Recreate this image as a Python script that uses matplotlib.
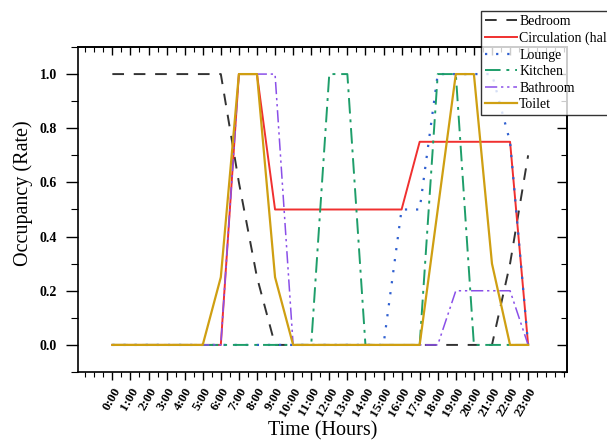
import matplotlib
matplotlib.use("Agg")
import matplotlib.pyplot as plt
from matplotlib.ticker import MultipleLocator, FixedLocator

plt.rcParams['font.family'] = ['Liberation Serif', 'DejaVu Serif']

hours = list(range(24))
tick_labels = [f"{h}:00" for h in hours]

bedroom     = [1, 1, 1, 1, 1, 1, 1, 0.6, 0.25, 0, 0, 0, 0, 0, 0, 0, 0, 0, 0, 0, 0, 0, 0.3, 0.7]
circulation = [0, 0, 0, 0, 0, 0, 0, 1, 1, 0.5, 0.5, 0.5, 0.5, 0.5, 0.5, 0.5, 0.5, 0.75, 0.75, 0.75, 0.75, 0.75, 0.75, 0]
lounge      = [0, 0, 0, 0, 0, 0, 0, 0, 0, 0, 0, 0, 0, 0, 0, 0, 0.5, 0.5, 1, 1, 1, 1, 0.75, 0]
kitchen     = [0, 0, 0, 0, 0, 0, 0, 0, 0, 0, 0, 0, 1, 1, 0, 0, 0, 0, 1, 1, 0, 0, 0, 0]
bathroom    = [0, 0, 0, 0, 0, 0, 0, 1, 1, 1, 0, 0, 0, 0, 0, 0, 0, 0, 0, 0.2, 0.2, 0.2, 0.2, 0]
toilet      = [0, 0, 0, 0, 0, 0, 0.25, 1, 1, 0.25, 0, 0, 0, 0, 0, 0, 0, 0, 0.5, 1, 1, 0.3, 0, 0]

fig = plt.figure(figsize=(6.07, 4.44), dpi=100)
ax = fig.add_axes([78/607, 1-372/444, (567-78)/607, (372-47)/444])

lw = 1.4
ax.plot(hours, bedroom, color='#333333', linestyle=(0, (6, 5)), lw=lw, label='Bedroom')
ax.plot(hours, circulation, color='#F0302F', linestyle='-', lw=lw, label='Circulation (hall)')
ax.plot(hours, lounge, color='#3060D0', linestyle=(0, (1, 4)), lw=lw+0.2, label='Lounge')
ax.plot(hours, kitchen, color='#1E9E6A', linestyle=(0, (8, 3, 1.5, 3)), lw=lw, label='Kitchen')
ax.plot(hours, bathroom, color='#8A4FE8', linestyle=(0, (8, 2.5, 1.5, 2.5, 1.5, 2.5)), lw=1.1, label='Bathroom')
ax.plot(hours, toilet, color='#CF9F12', linestyle='-', lw=1.6, label='Toilet')

ax.set_xlim(-1.9, 25.15)
ax.set_ylim(-0.1, 1.1)

ax.xaxis.set_major_locator(FixedLocator(hours))
ax.set_xticklabels(tick_labels, rotation=60, ha='right', rotation_mode='anchor',
                   fontsize=9.5, fontweight='bold')
ax.xaxis.set_minor_locator(MultipleLocator(0.5))
ax.set_yticks([0, 0.2, 0.4, 0.6, 0.8, 1.0])
ax.set_yticklabels(['0.0', '0.2', '0.4', '0.6', '0.8', '1.0'], fontsize=10, fontweight='bold')
ax.yaxis.set_minor_locator(MultipleLocator(0.1))

ax.tick_params(axis='x', which='major', direction='out', length=6, width=1.0, pad=4)
ax.tick_params(axis='x', which='minor', direction='out', length=3.5, width=0.8)
ax.tick_params(axis='y', which='major', direction='out', length=9, width=1.0, pad=6)
ax.tick_params(axis='y', which='minor', direction='out', length=5, width=0.8)

for s in ax.spines.values():
    s.set_linewidth(1.2)

sx = ax.secondary_xaxis('top')
sx.xaxis.set_major_locator(FixedLocator(hours))
sx.xaxis.set_minor_locator(MultipleLocator(0.5))
sx.tick_params(which='major', direction='in', length=6, width=1.0, labeltop=False)
sx.tick_params(which='minor', direction='in', length=3.5, width=0.8)
sx.spines['top'].set_linewidth(1.2)

sy = ax.secondary_yaxis('right')
sy.yaxis.set_major_locator(MultipleLocator(0.2))
sy.yaxis.set_minor_locator(MultipleLocator(0.1))
sy.tick_params(which='major', direction='in', length=7, width=1.0, labelright=False)
sy.tick_params(which='minor', direction='in', length=4, width=0.8)
sy.spines['right'].set_linewidth(1.2)

ax.set_xlabel('Time (Hours)', fontsize=14.5)
ax.set_ylabel('Occupancy (Rate)', fontsize=14.5)
ax.xaxis.label.set_va('center')
ax.xaxis.set_label_coords(0.5, (372-431)/325)
ax.yaxis.label.set_va('center')
ax.yaxis.set_label_coords(-0.112, 0.55)

leg = fig.legend(loc='upper left', bbox_to_anchor=(481/607, 1-11/444),
                 fontsize=10, frameon=True, fancybox=False, edgecolor='black',
                 handlelength=2.3, handletextpad=0.15, labelspacing=0.25,
                 borderpad=0.3, borderaxespad=0)
leg.get_frame().set_linewidth(1.0)

fig.savefig('out.png', dpi=100)
